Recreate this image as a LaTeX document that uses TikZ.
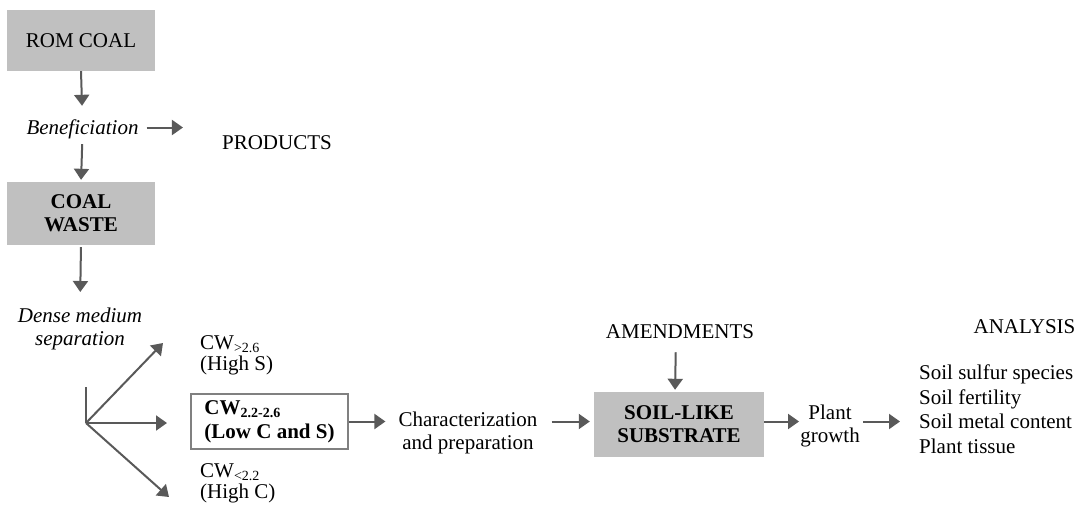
\documentclass[tikz,border=0pt]{standalone}
\usepackage{fontspec}
\setmainfont{Liberation Serif}
\usetikzlibrary{arrows.meta}
\definecolor{boxgray}{HTML}{C0C0C0}
\definecolor{arrgray}{HTML}{595959}
\definecolor{bordergray}{HTML}{808080}
\newcommand\fs{\fontsize{21}{23}\selectfont}
\newcommand\sub[1]{\raisebox{-3pt}{\fontsize{14}{14}\selectfont #1}}
\begin{document}
\begin{tikzpicture}[x=1pt,y=-1pt,
  every node/.style={inner sep=0pt, font=\fs},
  arr/.style={draw=arrgray, line width=2pt, -{Triangle[length=11pt,width=15pt]}},
  plain/.style={draw=arrgray, line width=2pt},
  greybox/.style={fill=boxgray, align=center},
  ital/.style={font=\fs\itshape},
  boldtxt/.style={font=\fs\bfseries}]
\useasboundingbox (0,0) rectangle (1080,504);

% nodes
\node[greybox, minimum width=148pt, minimum height=61pt] (rom) at (81,40.5) {ROM COAL};
\node[ital, text height=14pt, text depth=0pt] (benef) at (82.5,127.5) {Beneficiation};
\node (products) at (277,143) {PRODUCTS};
\node[greybox, boldtxt, minimum width=148pt, minimum height=63pt] (cw) at (81,213.5) {COAL\\WASTE};
\node[ital, align=center, anchor=north] (dense) at (80,308) {Dense medium\\separation};

\node[anchor=north west, align=left, font=\fontsize{21}{21}\selectfont] (hs) at (200,335) {CW\sub{>2.6}\\(High S)};
\node[anchor=north west, align=left, font=\fontsize{21}{21}\selectfont] (hc) at (200,463) {CW\sub{<2.2}\\(High C)};
\node[draw=bordergray, line width=2pt, fill=white, boldtxt, align=left,
      minimum width=157pt, minimum height=55pt, font=\fontsize{21}{24}\selectfont\bfseries] (box) at (269.5,421.5) {CW\sub{2.2-2.6}\\(Low C and S)};

\node[align=center] (char) at (468,433) {Characterization\\and preparation};
\node[greybox, boldtxt, minimum width=170pt, minimum height=65pt] (soil) at (679,424.5) {SOIL-LIKE\\SUBSTRATE};
\node (amend) at (680,332) {AMENDMENTS};
\node[align=center] (plant) at (830,426) {Plant\\growth};
\node (analysis) at (1024.5,326.5) {ANALYSIS};
\node[anchor=north west, align=left, font=\fontsize{21}{24.4}\selectfont] (list) at (919,365)
  {Soil sulfur species\\Soil fertility\\Soil metal content\\Plant tissue};

% fan coordinates
\coordinate (stub) at (86,387);
\coordinate (fan) at (86,423);
\coordinate (tipS) at (163,343);
\coordinate (tipC) at (169,497);

% connectors
\draw[arr, shorten >=14.5pt] (rom.south) -- (benef.north);
\draw[arr, shorten <=9.5pt, shorten >=2pt] (benef.south) -- (cw.north);
\draw[arr, shorten <=8pt, shorten >=39pt] (benef.east) -- (benef.east -| products.west);
\draw[arr, shorten <=2pt, shorten >=16pt] (cw.south) -- (dense.north);

\draw[plain] (stub) -- (fan);
\draw[arr] (fan) -- (tipS);
\draw[arr, shorten >=23pt] (fan) -- (fan -| box.west);
\draw[arr] (fan) -- (tipC);

\draw[arr, shorten >=13pt] (box.east) -- (box.east -| char.west);
\draw[arr, shorten <=14pt, shorten >=4pt] (char.east |- box.east) -- (box.east -| soil.west);
\draw[arr, shorten <=13pt, shorten >=2pt] ([xshift=-4pt]amend.south) -- ([xshift=-4pt]soil.north);
\draw[arr, shorten >=1pt] (soil.east |- box.east) -- (box.east -| plant.west);
\draw[arr, shorten <=3.5pt, shorten >=19pt] (plant.east |- box.east) -- (box.east -| list.west);
\end{tikzpicture}
\end{document}
